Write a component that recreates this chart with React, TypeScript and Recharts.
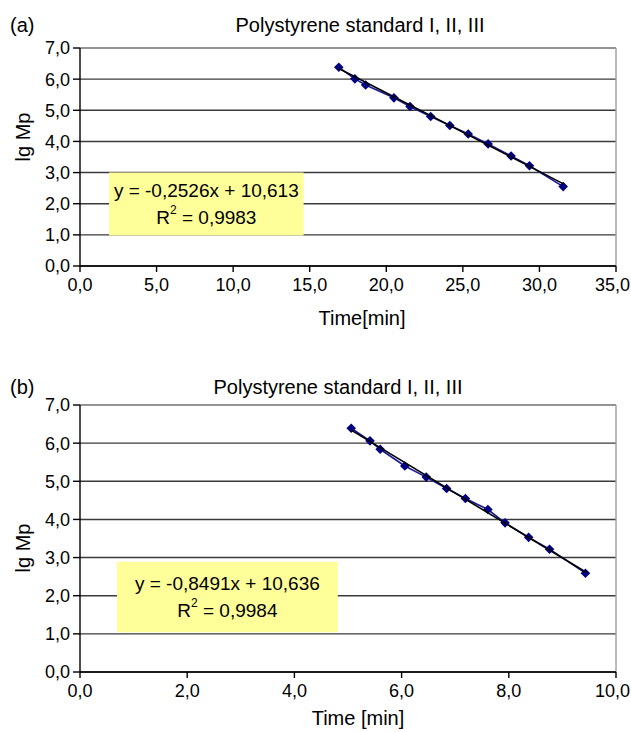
import React from "react";
import {
  ScatterChart,
  Scatter,
  XAxis,
  YAxis,
  CartesianGrid,
  ReferenceArea,
  ReferenceLine,
} from "recharts";

// (a) time [min] vs lg Mp
const timeA = [16.9, 17.95, 18.65, 20.5, 21.55, 22.9, 24.15, 25.35, 26.65, 28.15, 29.35, 31.55];
const lgMpA = [6.38, 6.01, 5.81, 5.4, 5.12, 4.8, 4.51, 4.24, 3.92, 3.53, 3.22, 2.55];
const trendTimeA = [16.9, 31.6];
const trendLgA = [6.34, 2.63];

// (b)
const timeB = [5.06, 5.41, 5.6, 6.06, 6.46, 6.84, 7.19, 7.61, 7.93, 8.37, 8.76, 9.43];
const lgMpB = [6.39, 6.06, 5.84, 5.4, 5.11, 4.81, 4.55, 4.26, 3.91, 3.53, 3.22, 2.59];
const trendTimeB = [5.06, 9.45];
const trendLgB = [6.34, 2.61];

const yTicks = [0, 1, 2, 3, 4, 5, 6, 7];
const xTicksA = [0, 5, 10, 15, 20, 25, 30, 35];
const xTicksB = [0, 2, 4, 6, 8, 10];

const FONT = "'Liberation Sans', Arial, sans-serif";
const fmt = (v: number) => v.toFixed(1).replace(".", ",");
const zip = (xs: number[], ys: number[]) => xs.map((x, i) => ({ x, y: ys[i] }));

const Diamond = (props: any) => {
  const { cx, cy } = props;
  const r = 4.8;
  return (
    <polygon
      points={`${cx},${cy - r} ${cx + r},${cy} ${cx},${cy + r} ${cx - r},${cy}`}
      fill="#000080"
    />
  );
};

const NoShape = () => <g />;

// x tick that keeps the last label inside the picture
const makeXTick = (xMax: number) => (props: any) => {
  const { x, y, payload } = props;
  const last = payload.value === xMax;
  return (
    <text
      x={last ? 630 : x}
      y={y}
      dy="0.71em"
      textAnchor={last ? "end" : "middle"}
      fill="#000"
      fontSize={18}
      fontFamily={FONT}
    >
      {fmt(payload.value)}
    </text>
  );
};

interface PanelProps {
  tag: string;
  top: number;
  height: number;
  marginTop: number;
  xAxisHeight: number;
  titleY: number;
  titleX: number;
  xTicks: number[];
  xMax: number;
  xLabel: string;
  xLabelX: number;
  xLabelDy: number;
  yLabelY: number;
  points: { x: number; y: number }[];
  trend: { x: number; y: number }[];
  box: [number, number, number, number];
  eq: string;
  r2: string;
}

function Panel(p: PanelProps) {
  return (
    <div style={{ position: "absolute", left: 0, top: p.top, width: 631, height: p.height }}>
      <ScatterChart
        width={631}
        height={p.height}
        margin={{ top: p.marginTop, right: 15, left: 0, bottom: 0 }}
      >
        <text x={10} y={p.titleY} dominantBaseline="central" fontSize={20} fontFamily={FONT}>
          {p.tag}
        </text>
        <text
          x={p.titleX}
          y={p.titleY}
          textAnchor="middle"
          dominantBaseline="central"
          fontSize={20}
          fontFamily={FONT}
        >
          Polystyrene standard I, II, III
        </text>
        <CartesianGrid vertical={false} stroke="#3a3a3a" strokeWidth={1.4} />
        <ReferenceLine y={7} stroke="#a0a0a0" strokeWidth={1.4} />
        <ReferenceLine x={p.xMax} stroke="#a0a0a0" strokeWidth={1.4} />
        <XAxis
          type="number"
          dataKey="x"
          domain={[0, p.xMax]}
          ticks={p.xTicks}
          height={p.xAxisHeight}
          stroke="#000"
          strokeWidth={1.4}
          tick={makeXTick(p.xMax)}
          tickSize={6}
          tickMargin={6}
          interval={0}
          allowDataOverflow
          label={{
            content: ({ viewBox }: any) => (
              <text
                x={p.xLabelX}
                y={viewBox.y + p.xLabelDy}
                textAnchor="middle"
                dominantBaseline="central"
                fontSize={20}
                fontFamily={FONT}
              >
                {p.xLabel}
              </text>
            ),
          }}
        />
        <YAxis
          type="number"
          dataKey="y"
          domain={[0, 7]}
          ticks={yTicks}
          width={80}
          tickFormatter={fmt}
          stroke="#000"
          strokeWidth={1.4}
          tick={{ fill: "#000", fontSize: 18, fontFamily: FONT }}
          tickSize={7}
          tickMargin={3}
          interval={0}
          label={{
            content: () => {
              const cx = 23;
              const cy = p.yLabelY;
              return (
                <text
                  x={cx}
                  y={cy}
                  transform={`rotate(-90 ${cx} ${cy})`}
                  textAnchor="middle"
                  dominantBaseline="central"
                  fontSize={20}
                  fontFamily={FONT}
                >
                  lg Mp
                </text>
              );
            },
          }}
        />
        <ReferenceArea
          x1={p.box[0]}
          x2={p.box[1]}
          y1={p.box[2]}
          y2={p.box[3]}
          fill="#ffff99"
          fillOpacity={1}
          stroke="none"
          label={{
            content: ({ viewBox }: any) => {
              const cx = viewBox.x + viewBox.width / 2;
              const cy = viewBox.y + viewBox.height / 2;
              return (
                <g fontFamily={FONT} fontSize={19} fill="#000">
                  <text x={cx} y={cy - 14} textAnchor="middle" dominantBaseline="central">
                    {p.eq}
                  </text>
                  <text x={cx} y={cy + 13} textAnchor="middle" dominantBaseline="central">
                    R<tspan dy={-7} fontSize={12}>2</tspan>
                    <tspan dy={7}>{" = " + p.r2}</tspan>
                  </text>
                </g>
              );
            },
          }}
        />
        <Scatter
          data={p.points}
          line={{ stroke: "#1a1a9a", strokeWidth: 1.6 }}
          shape={Diamond}
          isAnimationActive={false}
        />
        <Scatter
          data={p.trend}
          line={{ stroke: "#000", strokeWidth: 1.6 }}
          shape={NoShape}
          isAnimationActive={false}
        />
      </ScatterChart>
    </div>
  );
}

export default function App() {
  return (
    <div style={{ position: "absolute", left: 0, top: 0, width: 631, height: 732, background: "#fff" }}>
      <Panel
        tag="(a)"
        top={0}
        height={340}
        marginTop={48}
        xAxisHeight={74}
        titleY={25}
        titleX={360}
        xTicks={xTicksA}
        xMax={35}
        xLabel="Time[min]"
        xLabelX={362}
        xLabelDy={52}
        yLabelY={137}
        points={zip(timeA, lgMpA)}
        trend={zip(trendTimeA, trendLgA)}
        box={[1.9, 14.6, 0.98, 3.0]}
        eq="y = -0,2526x + 10,613"
        r2="0,9983"
      />
      <Panel
        tag="(b)"
        top={370}
        height={362}
        marginTop={35}
        xAxisHeight={60}
        titleY={17}
        titleX={338}
        xTicks={xTicksB}
        xMax={10}
        xLabel="Time [min]"
        xLabelX={358}
        xLabelDy={46}
        yLabelY={178}
        points={zip(timeB, lgMpB)}
        trend={zip(trendTimeB, trendLgB)}
        box={[0.69, 4.81, 1.04, 2.89]}
        eq="y = -0,8491x + 10,636"
        r2="0,9984"
      />
    </div>
  );
}
